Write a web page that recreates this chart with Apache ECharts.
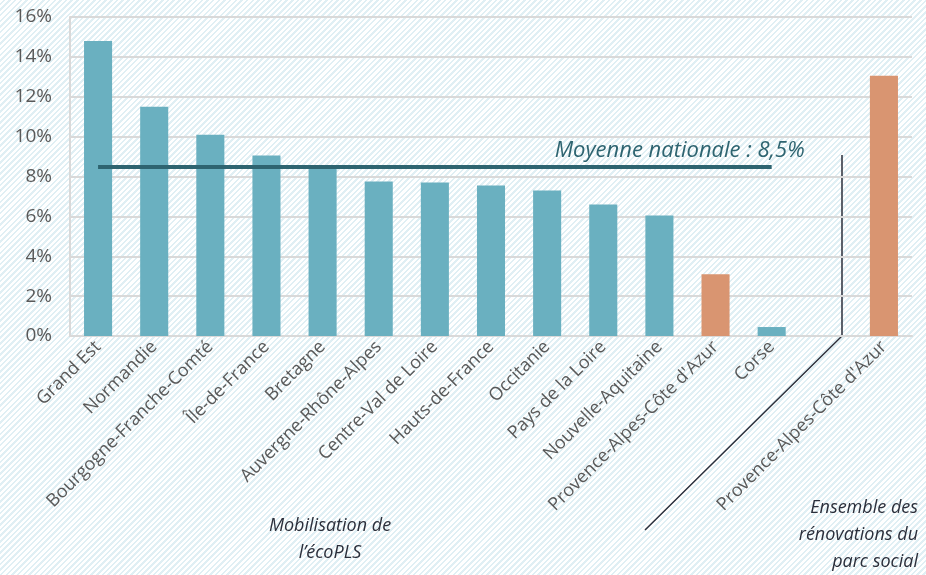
<!DOCTYPE html>
<html>
<head>
<meta charset="utf-8">
<script src="https://cdn.jsdelivr.net/npm/echarts@6/dist/echarts.min.js"></script>
<style>
  html,body{margin:0;padding:0;}
  #chart{
    width:926px;height:575px;
    background:repeating-linear-gradient(135deg,#ffffff 0px,#ffffff 2.2px,#e0eff4 2.2px,#e0eff4 4px);
  }
</style>
</head>
<body>
<div id="chart"></div>
<script>
// régions (la catégorie vide sépare les deux groupes)
const regions = ['Grand Est','Normandie','Bourgogne-Franche-Comté','Île-de-France','Bretagne',
  'Auvergne-Rhône-Alpes','Centre-Val de Loire','Hauts-de-France','Occitanie','Pays de la Loire',
  'Nouvelle-Aquitaine',"Provence-Alpes-Côte d'Azur",'Corse','',"Provence-Alpes-Côte d'Azur"]
// part des rénovations (%)
const parts = [14.8,11.5,10.1,9.05,8.4,7.75,7.7,7.55,7.3,6.6,6.05,3.1,0.45,null,13.05]
const moyenne = 8.5
const yTicks = [0,16,2] // min, max, pas

const teal = '#6ab0c0'
const orange = '#d99571'
const font = 'Open Sans'

const chart = echarts.init(document.getElementById('chart'))

let option = {
  backgroundColor:'transparent',
  animation:false,
  grid:{left:70,right:14,top:17,bottom:239,outerBoundsMode:'none'},
  xAxis:{
    type:'category',
    data:regions,
    axisTick:{show:false},
    axisLine:{lineStyle:{color:'#d9d9d9',width:2}},
    axisLabel:{
      rotate:45,
      interval:0,
      margin:8,
      fontSize:18,
      color:'#595959',
      fontFamily:font
    }
  },
  yAxis:{
    type:'value',
    min:yTicks[0],
    max:yTicks[1],
    interval:yTicks[2],
    axisLine:{show:true,lineStyle:{color:'#d9d9d9',width:2}},
    splitLine:{lineStyle:{color:'#d9d9d9',width:2}},
    axisLabel:{
      formatter:'{value}%',
      margin:18,
      fontSize:19,
      color:'#595959',
      fontFamily:font
    }
  },
  series:[{
    type:'bar',
    data:parts,
    barWidth:'50%',
    itemStyle:{
      color:p => p.name.indexOf('Provence') === 0 ? orange : teal
    },
    markLine:{
      symbol:'none',
      silent:true,
      lineStyle:{color:'#2e6470',width:4,type:'solid'},
      label:{
        show:true,
        position:'insideEndTop',
        formatter:'Moyenne nationale : 8,5%',
        fontStyle:'italic',
        fontSize:22,
        color:'#2e6470',
        fontFamily:font,
        distance:5,
        offset:[38,0]
      },
      data:[[{coord:[0,moyenne]},{coord:[12,moyenne]}]]
    }
  }],
  graphic:[
    {type:'polyline',shape:{points:[[842,155],[842,336],[645,530]]},
      style:{stroke:'#2b2f3b',lineWidth:1.5,fill:null}},
    {type:'text',x:330,y:512,
      style:{text:'Mobilisation de\nl’écoPLS',align:'center',font:'italic 18px "Open Sans"',
        fill:'#2b2f3b',lineHeight:27}},
    {type:'text',x:918,y:494,
      style:{text:'Ensemble des\nrénovations du\nparc social',align:'right',font:'italic 18px "Open Sans"',
        fill:'#2b2f3b',lineHeight:27}}
  ]
}

chart.setOption(option)
</script>
</body>
</html>
